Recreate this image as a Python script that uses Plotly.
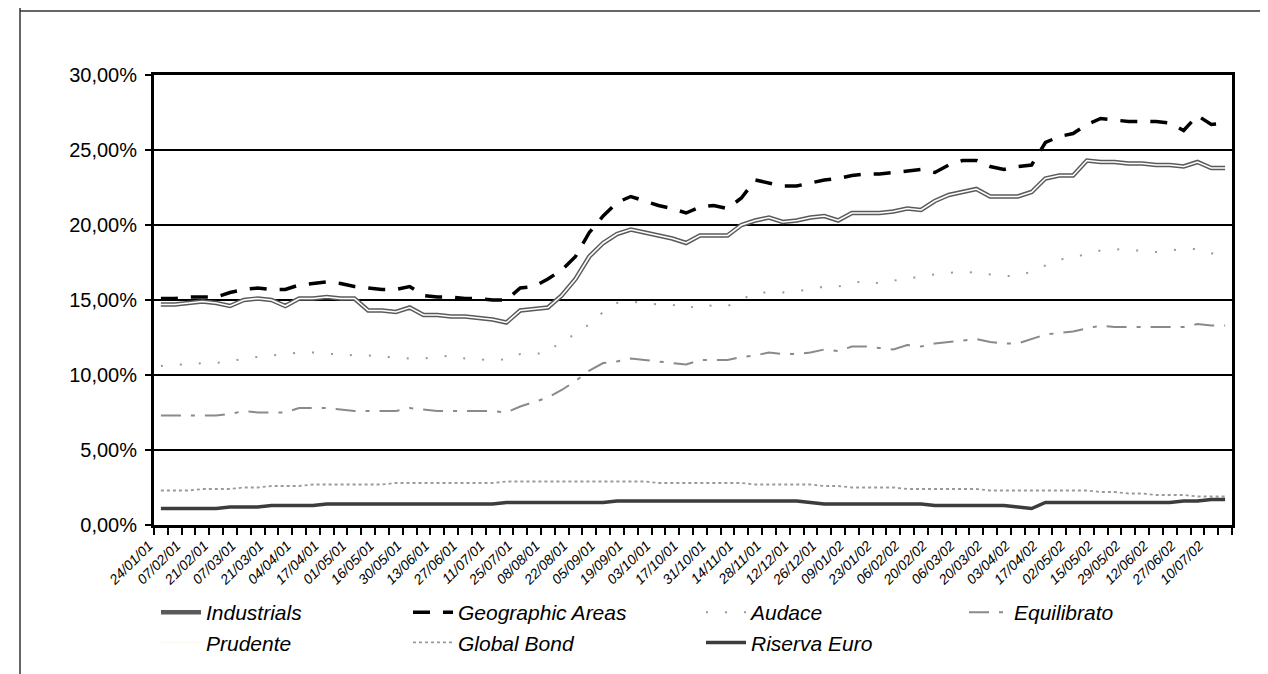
import plotly.graph_objects as go

dates = ["24/01/01","31/01/01","07/02/01","14/02/01","21/02/01","28/02/01","07/03/01","14/03/01",
         "21/03/01","28/03/01","04/04/01","11/04/01","17/04/01","24/04/01","01/05/01","09/05/01",
         "16/05/01","23/05/01","30/05/01","06/06/01","13/06/01","20/06/01","27/06/01","04/07/01",
         "11/07/01","18/07/01","25/07/01","01/08/01","08/08/01","16/08/01","22/08/01","29/08/01",
         "05/09/01","12/09/01","19/09/01","26/09/01","03/10/01","10/10/01","17/10/01","24/10/01",
         "31/10/01","07/11/01","14/11/01","21/11/01","28/11/01","05/12/01","12/12/01","19/12/01",
         "26/12/01","02/01/02","09/01/02","16/01/02","23/01/02","30/01/02","06/02/02","13/02/02",
         "20/02/02","27/02/02","06/03/02","13/03/02","20/03/02","27/03/02","03/04/02","10/04/02",
         "17/04/02","24/04/02","02/05/02","08/05/02","15/05/02","22/05/02","29/05/02","05/06/02",
         "12/06/02","19/06/02","27/06/02","03/07/02","10/07/02","17/07/02"]

industrials = [14.7,14.7,14.8,14.9,14.8,14.6,15.0,15.1,15.0,14.6,15.1,15.1,15.2,15.1,15.1,14.3,
               14.3,14.2,14.5,14.0,14.0,13.9,13.9,13.8,13.7,13.5,14.3,14.4,14.5,15.3,16.4,17.9,
               18.8,19.4,19.7,19.5,19.3,19.1,18.8,19.3,19.3,19.3,20.0,20.3,20.5,20.2,20.3,20.5,
               20.6,20.3,20.8,20.8,20.8,20.9,21.1,21.0,21.6,22.0,22.2,22.4,21.9,21.9,21.9,22.2,
               23.1,23.3,23.3,24.3,24.2,24.2,24.1,24.1,24.0,24.0,23.9,24.2,23.8,23.8]

geographic = [15.1,15.1,15.2,15.2,15.2,15.5,15.7,15.8,15.7,15.7,16.0,16.1,16.2,16.1,15.9,15.8,
              15.7,15.7,15.9,15.3,15.2,15.2,15.1,15.1,15.0,15.0,15.8,15.9,16.4,17.0,17.9,19.5,
              20.6,21.5,21.9,21.6,21.3,21.1,20.8,21.2,21.3,21.1,21.8,23.0,22.8,22.6,22.6,22.8,
              23.0,23.1,23.3,23.4,23.4,23.5,23.6,23.7,23.5,24.0,24.3,24.3,23.9,23.7,23.9,24.0,
              25.5,25.9,26.1,26.7,27.1,27.0,26.9,26.9,26.9,26.8,26.3,27.3,26.7,26.8]

audace = [10.6,10.7,10.7,10.8,10.8,10.9,11.1,11.2,11.3,11.4,11.5,11.5,11.4,11.4,11.3,11.3,
          11.2,11.2,11.1,11.1,11.2,11.3,11.1,11.0,11.1,11.0,11.4,11.4,11.5,12.3,12.7,13.4,
          14.2,14.8,14.9,14.8,14.7,14.7,14.4,14.7,14.6,14.6,15.0,15.5,15.5,15.5,15.6,15.7,
          15.9,15.9,16.1,16.3,16.1,16.3,16.4,16.6,16.7,16.8,16.9,16.8,16.7,16.6,16.6,16.9,
          17.3,17.7,17.8,18.1,18.3,18.4,18.3,18.3,18.2,18.3,18.4,18.4,18.1,18.2]

equilibrato = [7.3,7.3,7.3,7.3,7.3,7.4,7.6,7.5,7.5,7.5,7.8,7.8,7.8,7.7,7.6,7.6,
               7.6,7.6,7.8,7.7,7.6,7.6,7.6,7.6,7.6,7.5,7.9,8.2,8.5,9.0,9.6,10.3,
               10.8,10.9,11.1,11.0,10.9,10.8,10.7,11.0,11.0,11.0,11.2,11.3,11.5,11.4,11.4,11.5,
               11.7,11.6,11.9,11.9,11.8,11.7,12.0,11.9,12.1,12.2,12.3,12.4,12.2,12.1,12.1,12.4,
               12.7,12.8,12.9,13.1,13.3,13.2,13.2,13.2,13.2,13.2,13.2,13.4,13.3,13.3]

# Prudente: drawn in a colour that did not survive the scan; no readable values
prudente = [None] * 78

global_bond = [2.3,2.3,2.3,2.4,2.4,2.4,2.5,2.5,2.6,2.6,2.6,2.7,2.7,2.7,2.7,2.7,
               2.7,2.8,2.8,2.8,2.8,2.8,2.8,2.8,2.8,2.9,2.9,2.9,2.9,2.9,2.9,2.9,
               2.9,2.9,2.9,2.9,2.8,2.8,2.8,2.8,2.8,2.8,2.8,2.7,2.7,2.7,2.7,2.7,
               2.6,2.6,2.5,2.5,2.5,2.5,2.4,2.4,2.4,2.4,2.4,2.4,2.3,2.3,2.3,2.3,
               2.3,2.3,2.3,2.3,2.2,2.2,2.1,2.1,2.0,2.0,2.0,1.9,1.9,1.9]

riserva_euro = [1.1,1.1,1.1,1.1,1.1,1.2,1.2,1.2,1.3,1.3,1.3,1.3,1.4,1.4,1.4,1.4,
                1.4,1.4,1.4,1.4,1.4,1.4,1.4,1.4,1.4,1.5,1.5,1.5,1.5,1.5,1.5,1.5,
                1.5,1.6,1.6,1.6,1.6,1.6,1.6,1.6,1.6,1.6,1.6,1.6,1.6,1.6,1.6,1.5,
                1.4,1.4,1.4,1.4,1.4,1.4,1.4,1.4,1.3,1.3,1.3,1.3,1.3,1.3,1.2,1.1,
                1.5,1.5,1.5,1.5,1.5,1.5,1.5,1.5,1.5,1.5,1.6,1.6,1.7,1.7]

for arr in (industrials, geographic, audace, equilibrato, prudente, global_bond, riserva_euro):
    assert len(arr) == len(dates), len(arr)

tick_text = [d if i % 2 == 0 else "" for i, d in enumerate(dates)]

fig = go.Figure()
fig.add_trace(go.Scatter(x=dates, y=industrials, name="Industrials", mode="lines",
                         legend="legend", legendgroup="ind",
                         line=dict(color="#5a5a5a", width=4.5)))
fig.add_trace(go.Scatter(x=dates, y=industrials, name="Industrials", mode="lines",
                         legend="legend", legendgroup="ind", showlegend=False, hoverinfo="skip",
                         line=dict(color="white", width=1.6)))
fig.add_trace(go.Scatter(x=dates, y=geographic, name="Geographic Areas", mode="lines",
                         legend="legend2",
                         line=dict(color="black", width=3.5, dash="17px,13px")))
fig.add_trace(go.Scatter(x=dates, y=audace, name="Audace", mode="lines",
                         legend="legend3",
                         line=dict(color="#999999", width=2, dash="2px,17px")))
fig.add_trace(go.Scatter(x=dates, y=equilibrato, name="Equilibrato", mode="lines",
                         legend="legend4",
                         line=dict(color="#8a8a8a", width=2, dash="20px,10px,4px,10px")))
fig.add_trace(go.Scatter(x=dates, y=prudente, name="Prudente", mode="lines",
                         legend="legend",
                         line=dict(color="#fbfbf4", width=2)))
fig.add_trace(go.Scatter(x=dates, y=global_bond, name="Global Bond", mode="lines",
                         legend="legend2",
                         line=dict(color="#9a9a9a", width=1.8, dash="3px,3px")))
fig.add_trace(go.Scatter(x=dates, y=riserva_euro, name="Riserva Euro", mode="lines",
                         legend="legend3",
                         line=dict(color="#3c3c3c", width=3.5)))

L, R, T, B = 146, 44, 67, 157
W, H = 1268, 674
pw, ph = W - L - R, H - T - B

def px_x(x):
    return (x - L) / pw

def px_y(y):
    return (H - B - y) / ph

frame = dict(type="line", xref="paper", yref="paper", line=dict(color="#333333", width=1.5))
shapes = [
    dict(frame, x0=px_x(12), x1=px_x(12), y0=px_y(0), y1=px_y(H)),
    dict(frame, x0=px_x(12), x1=px_x(W), y0=px_y(3), y1=px_y(3)),
    dict(frame, x0=px_x(1195), x1=px_x(W), y0=px_y(672), y1=px_y(672)),
]

legend_font = dict(family="Liberation Sans, Arial, sans-serif", size=21, style="italic", color="black")

def legend_at(xpix):
    return dict(orientation="v", x=px_x(xpix), xanchor="left", y=px_y(584), yanchor="top",
                itemwidth=40, font=legend_font, bgcolor="rgba(0,0,0,0)", traceorder="normal")

fig.update_layout(
    width=W, height=H,
    margin=dict(l=L, r=R, t=T, b=B),
    paper_bgcolor="white", plot_bgcolor="white",
    separators=",.",
    showlegend=True,
    shapes=shapes,
    font=dict(family="Liberation Sans, Arial, sans-serif", color="black"),
    legend=legend_at(148),
    legend2=legend_at(400),
    legend3=legend_at(693),
    legend4=legend_at(956),
    xaxis=dict(type="category", range=[-0.5, len(dates) - 0.5],
               tickmode="array", tickvals=dates, ticktext=tick_text,
               tickson="boundaries", ticks="outside", ticklen=7, tickwidth=1.5, tickcolor="black",
               tickangle=-45, ticklabelshift=-12, ticklabelstandoff=4,
               tickfont=dict(family="Liberation Sans, Arial, sans-serif",
                             size=14, style="italic", color="black"),
               showline=True, linecolor="black", linewidth=3, mirror=True,
               showgrid=False, zeroline=False),
    yaxis=dict(range=[0, 30], tickmode="linear", tick0=0, dtick=5,
               tickformat=".2f", ticksuffix="%",
               ticks="outside", ticklen=6, tickwidth=1.5, tickcolor="black",
               ticklabelstandoff=4,
               tickfont=dict(family="Liberation Sans, Arial, sans-serif", size=20, color="black"),
               showline=True, linecolor="black", linewidth=3, mirror=True,
               showgrid=True, gridcolor="black", gridwidth=1.5, zeroline=False),
)

fig.write_html("out.html")
